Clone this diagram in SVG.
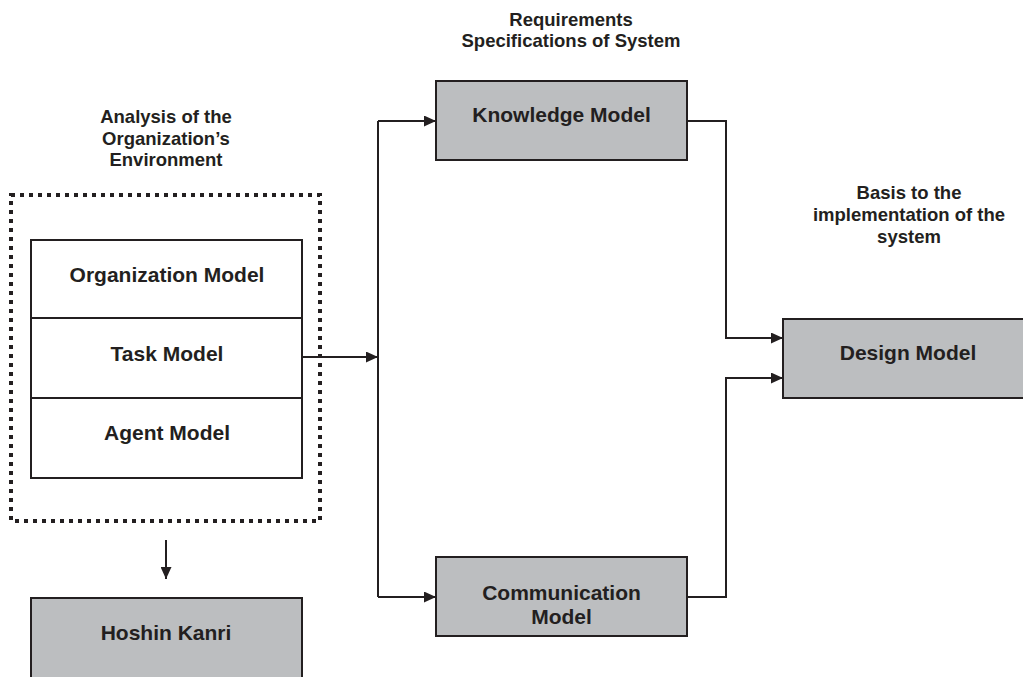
<svg xmlns="http://www.w3.org/2000/svg" width="1023" height="677" viewBox="0 0 1023 677">
  <style>
    .box { fill: #bcbec0; stroke: #231f20; stroke-width: 2; }
    .plain { fill: #ffffff; stroke: #231f20; stroke-width: 2; }
    .dotted { fill: none; stroke: #231f20; stroke-width: 4; stroke-dasharray: 4 5; }
    .wire { fill: none; stroke: #231f20; stroke-width: 2; }
    .lbl { font-family: "Liberation Sans", Arial, sans-serif; font-weight: bold; font-size: 21px; fill: #231f20; text-anchor: middle; }
    .cap { font-family: "Liberation Sans", Arial, sans-serif; font-weight: bold; font-size: 18.5px; fill: #231f20; text-anchor: middle; }
  </style>
  <defs>
    <marker id="head" markerUnits="userSpaceOnUse" markerWidth="12" markerHeight="11" refX="12" refY="5.5" orient="auto">
      <path d="M0,0 L12,5.5 L0,11 Z" fill="#231f20"/>
    </marker>
  </defs>
  <rect width="1023" height="677" fill="#ffffff"/>

  <!-- captions -->
  <g id="caption-environment">
    <text class="cap" x="166" y="123">Analysis of the</text>
    <text class="cap" x="166" y="145">Organization’s</text>
    <text class="cap" x="166" y="166">Environment</text>
  </g>
  <g id="caption-requirements">
    <text class="cap" x="571" y="26">Requirements</text>
    <text class="cap" x="571" y="47">Specifications of System</text>
  </g>
  <g id="caption-basis">
    <text class="cap" x="909" y="199">Basis to the</text>
    <text class="cap" x="909" y="221">implementation of the</text>
    <text class="cap" x="909" y="243">system</text>
  </g>

  <!-- organization environment group -->
  <g id="environment">
    <rect class="dotted" x="11" y="195" width="309" height="326"/>
  </g>
  <g id="organization-model">
    <rect class="plain" x="31" y="240" width="271" height="78"/>
    <text class="lbl" x="167" y="282">Organization Model</text>
  </g>
  <g id="task-model">
    <rect class="plain" x="31" y="318" width="271" height="80"/>
    <text class="lbl" x="167" y="361">Task Model</text>
  </g>
  <g id="agent-model">
    <rect class="plain" x="31" y="398" width="271" height="80"/>
    <text class="lbl" x="167" y="440">Agent Model</text>
  </g>

  <g id="hoshin-kanri">
    <rect class="box" x="31" y="598" width="271" height="90"/>
    <text class="lbl" x="166" y="640">Hoshin Kanri</text>
  </g>

  <g id="knowledge-model">
    <rect class="box" x="436" y="81" width="251" height="79"/>
    <text class="lbl" x="561.5" y="122">Knowledge Model</text>
  </g>

  <g id="communication-model">
    <rect class="box" x="436" y="557" width="251" height="79"/>
    <text class="lbl" x="561.5" y="600">Communication</text>
    <text class="lbl" x="561.5" y="624">Model</text>
  </g>

  <g id="design-model">
    <rect class="box" x="783" y="319" width="251" height="79"/>
    <text class="lbl" x="908" y="360">Design Model</text>
  </g>

  <!-- connectors -->
  <g id="connectors">
    <line class="wire" x1="378" y1="121" x2="378" y2="597"/>
    <line class="wire" x1="302" y1="357" x2="378" y2="357" marker-end="url(#head)"/>
    <line class="wire" x1="378" y1="121" x2="436" y2="121" marker-end="url(#head)"/>
    <line class="wire" x1="378" y1="597" x2="436" y2="597" marker-end="url(#head)"/>
    <polyline class="wire" points="687,121 726,121 726,338 783,338" marker-end="url(#head)"/>
    <polyline class="wire" points="687,597 726,597 726,378 783,378" marker-end="url(#head)"/>
    <line class="wire" x1="166" y1="540" x2="166" y2="579" marker-end="url(#head)"/>
  </g>
</svg>
